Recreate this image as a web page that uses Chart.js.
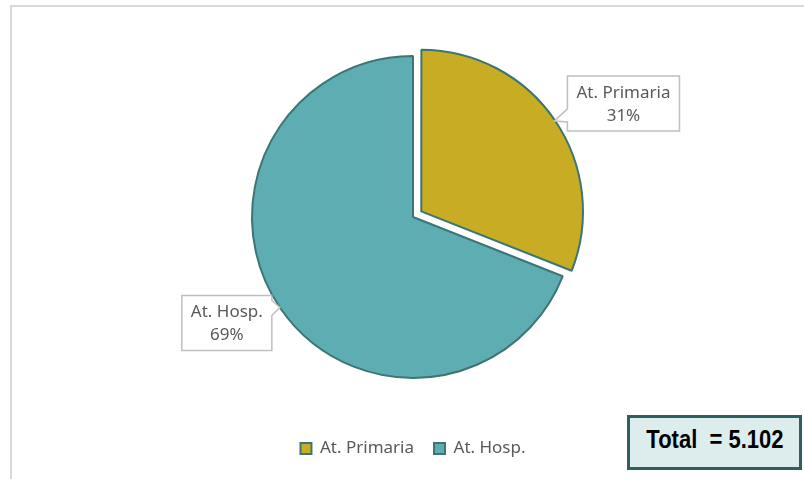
<!DOCTYPE html>
<html>
<head>
<meta charset="utf-8">
<script src="https://cdn.jsdelivr.net/npm/chart.js@4.4.1/dist/chart.umd.min.js"></script>
<style>
  html, body { margin: 0; padding: 0; background: #fff; }
  #wrap { position: relative; width: 804px; height: 479px; overflow: hidden; }
  #frame {
    position: absolute; left: 10px; top: 5px; width: 900px; height: 600px;
    border: 2px solid #d9d9d9; box-sizing: border-box;
  }
  #chart { position: absolute; left: 0; top: 0; }
  #total {
    position: absolute; left: 627px; top: 415px; width: 175px; height: 55px;
    box-sizing: border-box; border: 3px solid #2f5f5f; background: #ddeded;
    display: flex; align-items: center; justify-content: center;
  }
  #total span {
    display: inline-block; transform: scaleX(0.88); margin-top: -6px;
    font-family: "Liberation Sans", Arial, sans-serif;
    font-weight: bold; font-size: 25px; color: #000; white-space: pre;
  }
</style>
</head>
<body>
<div id="wrap">
  <div id="frame"></div>
  <canvas id="chart" width="804" height="479"></canvas>
  <div id="total"><span id="totalText"></span></div>
</div>
<script>
const categories = ["At. Primaria", "At. Hosp."];
const shares = [31, 69];
const sliceColors = ["#c8ac24", "#5eadb3"];
const explode = [40, 0];
const totalLabel = "Total  = 5.102";

document.getElementById("totalText").textContent = totalLabel;

const FONT_FAMILY = "'Noto Sans', 'Open Sans', sans-serif";
const LABEL_FONT = "17px " + FONT_FAMILY;

// callout boxes pointing at the middle of each slice's outer edge
const calloutPlugin = {
  id: "callouts",
  afterDatasetsDraw(chart) {
    const ctx = chart.ctx;
    const meta = chart.getDatasetMeta(0);
    const sum = shares.reduce((a, b) => a + b, 0);
    ctx.save();
    ctx.font = LABEL_FONT;
    meta.data.forEach((arc, i) => {
      const p = arc.getProps(["x", "y", "startAngle", "endAngle", "outerRadius"], true);
      const mid = (p.startAngle + p.endAngle) / 2;
      const off = (explode[i] || 0) / 4; // arc element translates by offset / 4
      const cx = p.x + Math.cos(mid) * off;
      const cy = p.y + Math.sin(mid) * off;
      const tipX = cx + Math.cos(mid) * p.outerRadius;
      const tipY = cy + Math.sin(mid) * p.outerRadius;
      const line1 = categories[i];
      const line2 = Math.round(shares[i] / sum * 100) + "%";
      const w = Math.max(ctx.measureText(line1).width, ctx.measureText(line2).width) + 18;
      const h = 55;
      const right = Math.cos(mid) >= 0;
      let left, top;
      ctx.beginPath();
      if (right) {
        left = tipX + 13;
        top = tipY - 45;
        ctx.moveTo(left, top);
        ctx.lineTo(left + w, top);
        ctx.lineTo(left + w, top + h);
        ctx.lineTo(left, top + h);
        ctx.lineTo(left, top + 46);
        ctx.lineTo(tipX, tipY);
        ctx.lineTo(left, top + 33);
      } else {
        left = tipX - 8 - w;
        top = tipY - 12;
        ctx.moveTo(left, top);
        ctx.lineTo(left + w, top);
        ctx.lineTo(left + w, top + 5);
        ctx.lineTo(tipX, tipY);
        ctx.lineTo(left + w, top + 20);
        ctx.lineTo(left + w, top + h);
        ctx.lineTo(left, top + h);
      }
      ctx.closePath();
      ctx.fillStyle = "#ffffff";
      ctx.fill();
      ctx.lineWidth = 1.5;
      ctx.strokeStyle = "#bfbfbf";
      ctx.stroke();
      ctx.fillStyle = "#595959";
      ctx.textAlign = "center";
      ctx.textBaseline = "middle";
      ctx.fillText(line1, left + w / 2, top + 17);
      ctx.fillText(line2, left + w / 2, top + 40);
    });
    ctx.restore();
  }
};

new Chart(document.getElementById("chart"), {
  type: "pie",
  data: {
    labels: categories,
    datasets: [{
      data: shares,
      backgroundColor: sliceColors,
      borderColor: "#3d7474",
      borderWidth: 2,
      offset: explode,
      hoverOffset: 0
    }]
  },
  options: {
    responsive: false,
    animation: false,
    radius: 161,
    layout: { padding: { left: 22, right: 0, top: 14, bottom: 12 } },
    plugins: {
      tooltip: { enabled: false },
      legend: {
        position: "bottom",
        labels: {
          boxWidth: 11,
          boxHeight: 11,
          padding: 20,
          color: "#595959",
          font: { family: FONT_FAMILY, size: 17 }
        }
      }
    }
  },
  plugins: [calloutPlugin]
});
</script>
</body>
</html>
